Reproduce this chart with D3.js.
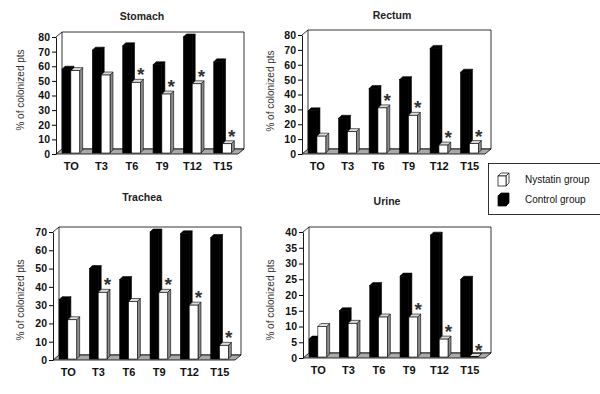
<!DOCTYPE html>
<html>
<head>
<meta charset="utf-8">
<script src="https://cdn.jsdelivr.net/npm/d3@7"></script>
<style>
  body { margin: 0; background: #fff; }
  svg { display: block; font-family: "Liberation Sans", Arial, sans-serif; }
</style>
</head>
<body>
<svg id="chart" width="600" height="394"></svg>
<script>
const categories = ['TO', 'T3', 'T6', 'T9', 'T12', 'T15']
const series = ['control', 'nystatin']

const stomachControl = [58, 71, 74, 61, 80, 63]
const stomachNystatin = [57, 54, 49, 41, 48, 7]
const stomachStars = ['T6', 'T9', 'T12', 'T15']

const rectumControl = [29, 24, 44, 50, 71, 55]
const rectumNystatin = [12, 15, 31, 26, 6, 7]
const rectumStars = ['T6', 'T9', 'T12', 'T15']

const tracheaControl = [33, 50, 44, 70, 69, 67]
const tracheaNystatin = [22, 37, 32, 37, 30, 8]
const tracheaStars = ['T3', 'T9', 'T12', 'T15']

const urineControl = [6, 15, 23, 26, 39, 25]
const urineNystatin = [10, 11, 13, 13, 6, 0]
const urineStars = ['T9', 'T12', 'T15']

const legendLabels = ['Nystatin group', 'Control group']

const svg = d3.select('#chart')

// depth of the walls and of the bars
const wallDx = 6, wallDy = 5
const barD = 3

const panels = [
    { title: 'Stomach', control: stomachControl, nystatin: stomachNystatin, stars: stomachStars,
      max: 80, step: 10, axisX: 56, w: 182, yTop: 37, y0: 154, titleX: 142, titleY: 20, labelX: 20, labelY: 90 },
    { title: 'Rectum', control: rectumControl, nystatin: rectumNystatin, stars: rectumStars,
      max: 80, step: 10, axisX: 302, w: 183, yTop: 35, y0: 154, titleX: 392, titleY: 19, labelX: 270, labelY: 91 },
    { title: 'Trachea', control: tracheaControl, nystatin: tracheaNystatin, stars: tracheaStars,
      max: 70, step: 10, axisX: 53, w: 182, yTop: 232, y0: 360, titleX: 142, titleY: 201, labelX: 20, labelY: 300 },
    { title: 'Urine', control: urineControl, nystatin: urineNystatin, stars: urineStars,
      max: 40, step: 5, axisX: 303, w: 182, yTop: 232, y0: 358, titleX: 387, titleY: 205, labelX: 270, labelY: 300 }
]

panels.forEach(drawPanel)
drawLegend()

function poly(points) {
    return points.map(p => p.join(',')).join(' ')
}

function drawPanel(p) {
    const g = svg.append('g')

    const y = d3.scaleLinear()
        .domain([0, p.max])
        .range([p.y0, p.yTop])

    const x = d3.scaleBand()
        .domain(categories)
        .range([p.axisX, p.axisX + p.w])

    const step = x.step()
    const xs = d3.scaleBand()
        .domain(series)
        .range([step * 0.2, step * 0.78])

    // back wall
    g.append('polygon')
        .attr('points', poly([
            [p.axisX + wallDx, p.yTop - wallDy], [p.axisX + p.w + wallDx, p.yTop - wallDy],
            [p.axisX + p.w + wallDx, p.y0 - wallDy], [p.axisX + wallDx, p.y0 - wallDy]]))
        .attr('fill', '#fff')
        .attr('stroke', '#000')
        .attr('stroke-width', 0.8)

    g.append('line')
        .attr('x1', p.axisX).attr('y1', p.yTop)
        .attr('x2', p.axisX + wallDx).attr('y2', p.yTop - wallDy)
        .attr('stroke', '#000')
        .attr('stroke-width', 0.8)

    // floor
    g.append('polygon')
        .attr('points', poly([
            [p.axisX, p.y0], [p.axisX + p.w, p.y0],
            [p.axisX + p.w + wallDx, p.y0 - wallDy], [p.axisX + wallDx, p.y0 - wallDy]]))
        .attr('fill', '#a9a9a9')
        .attr('stroke', '#000')
        .attr('stroke-width', 0.8)

    // bars
    const rows = []
    categories.forEach((c, i) => {
        rows.push({ cat: c, key: 'control', value: p.control[i] })
        rows.push({ cat: c, key: 'nystatin', value: p.nystatin[i] })
    })

    const base = p.y0 - 1
    const bars = g.selectAll('.bar')
        .data(rows)
        .enter()
        .append('g')
        .attr('class', 'bar')

    bars.each(function (d) {
        const b = d3.select(this)
        const x0 = x(d.cat) + xs(d.key)
        const bw = xs.bandwidth()
        const yt = Math.min(y(d.value), base - 0.5)
        const dark = d.key === 'control'

        b.append('polygon')
            .attr('points', poly([[x0 + bw, yt], [x0 + bw + barD, yt - barD], [x0 + bw + barD, base - barD], [x0 + bw, base]]))
            .attr('fill', dark ? '#000' : '#8c8c8c')
            .attr('stroke', '#000')
            .attr('stroke-width', 0.6)
        b.append('polygon')
            .attr('points', poly([[x0, yt], [x0 + bw, yt], [x0 + bw + barD, yt - barD], [x0 + barD, yt - barD]]))
            .attr('fill', dark ? '#000' : '#dcdcdc')
            .attr('stroke', '#000')
            .attr('stroke-width', 0.6)
        b.append('rect')
            .attr('x', x0)
            .attr('y', yt)
            .attr('width', bw)
            .attr('height', base - yt)
            .attr('fill', dark ? '#000' : '#fff')
            .attr('stroke', '#000')
            .attr('stroke-width', 0.6)
    })

    // significance stars
    g.selectAll('.star')
        .data(p.stars)
        .enter()
        .append('text')
        .attr('class', 'star')
        .attr('x', d => x(d) + xs('nystatin') + xs.bandwidth() + 0.5)
        .attr('y', d => y(p.nystatin[categories.indexOf(d)]) - 1)
        .attr('text-anchor', 'middle')
        .attr('font-size', 19)
        .attr('font-weight', 'bold')
        .attr('fill', '#333')
        .text('*')

    // y axis
    const yAxis = g.append('g')
        .attr('transform', `translate(${p.axisX},0)`)
        .call(d3.axisLeft(y)
            .tickValues(d3.range(0, p.max + 1, p.step))
            .tickSize(4)
            .tickSizeOuter(0)
            .tickPadding(2))
    yAxis.selectAll('text')
        .attr('font-size', 10.5)
        .attr('font-weight', 'bold')
        .attr('fill', '#111')
        .attr('font-family', '"Liberation Sans", Arial, sans-serif')
    yAxis.select('.domain').attr('stroke-width', 0.9)

    // category labels
    const xAxis = g.append('g')
        .attr('transform', `translate(0,${p.y0})`)
        .call(d3.axisBottom(x).tickSize(0).tickPadding(8))
    xAxis.select('.domain').remove()
    xAxis.selectAll('text')
        .attr('font-size', 11)
        .attr('font-weight', 'bold')
        .attr('fill', '#111')
        .attr('font-family', '"Liberation Sans", Arial, sans-serif')

    // titles
    g.append('text')
        .attr('x', p.titleX)
        .attr('y', p.titleY)
        .attr('text-anchor', 'middle')
        .attr('font-size', 10.5)
        .attr('font-weight', 'bold')
        .attr('fill', '#222')
        .text(p.title)

    g.append('text')
        .attr('transform', `translate(${p.labelX},${p.labelY}) rotate(-90)`)
        .attr('text-anchor', 'middle')
        .attr('dy', '0.35em')
        .attr('font-size', 10)
        .attr('fill', '#333')
        .text('% of colonized pts')
}

function drawCube(g, x0, y0, w, h, d, dark) {
    g.append('polygon')
        .attr('points', poly([[x0 + w, y0], [x0 + w + d, y0 - d], [x0 + w + d, y0 + h - d], [x0 + w, y0 + h]]))
        .attr('fill', dark ? '#000' : '#fff')
        .attr('stroke', '#000').attr('stroke-width', 0.7)
    g.append('polygon')
        .attr('points', poly([[x0, y0], [x0 + w, y0], [x0 + w + d, y0 - d], [x0 + d, y0 - d]]))
        .attr('fill', dark ? '#000' : '#fff')
        .attr('stroke', '#000').attr('stroke-width', 0.7)
    g.append('rect')
        .attr('x', x0).attr('y', y0).attr('width', w).attr('height', h)
        .attr('fill', dark ? '#000' : '#fff')
        .attr('stroke', '#000').attr('stroke-width', 0.7)
}

function drawLegend() {
    const g = svg.append('g')
    g.append('rect')
        .attr('x', 488.5).attr('y', 163.5)
        .attr('width', 120).attr('height', 51)
        .attr('fill', '#fff')
        .attr('stroke', '#000')
        .attr('stroke-width', 0.8)

    legendLabels.forEach((label, i) => {
        const top = 176 + i * 20
        drawCube(g, 498, top, 8, 10, 3, i === 1)
        g.append('text')
            .attr('x', 525)
            .attr('y', top + 7)
            .attr('font-size', 10)
            .attr('fill', '#111')
            .text(label)
    })
}
</script>
</body>
</html>
